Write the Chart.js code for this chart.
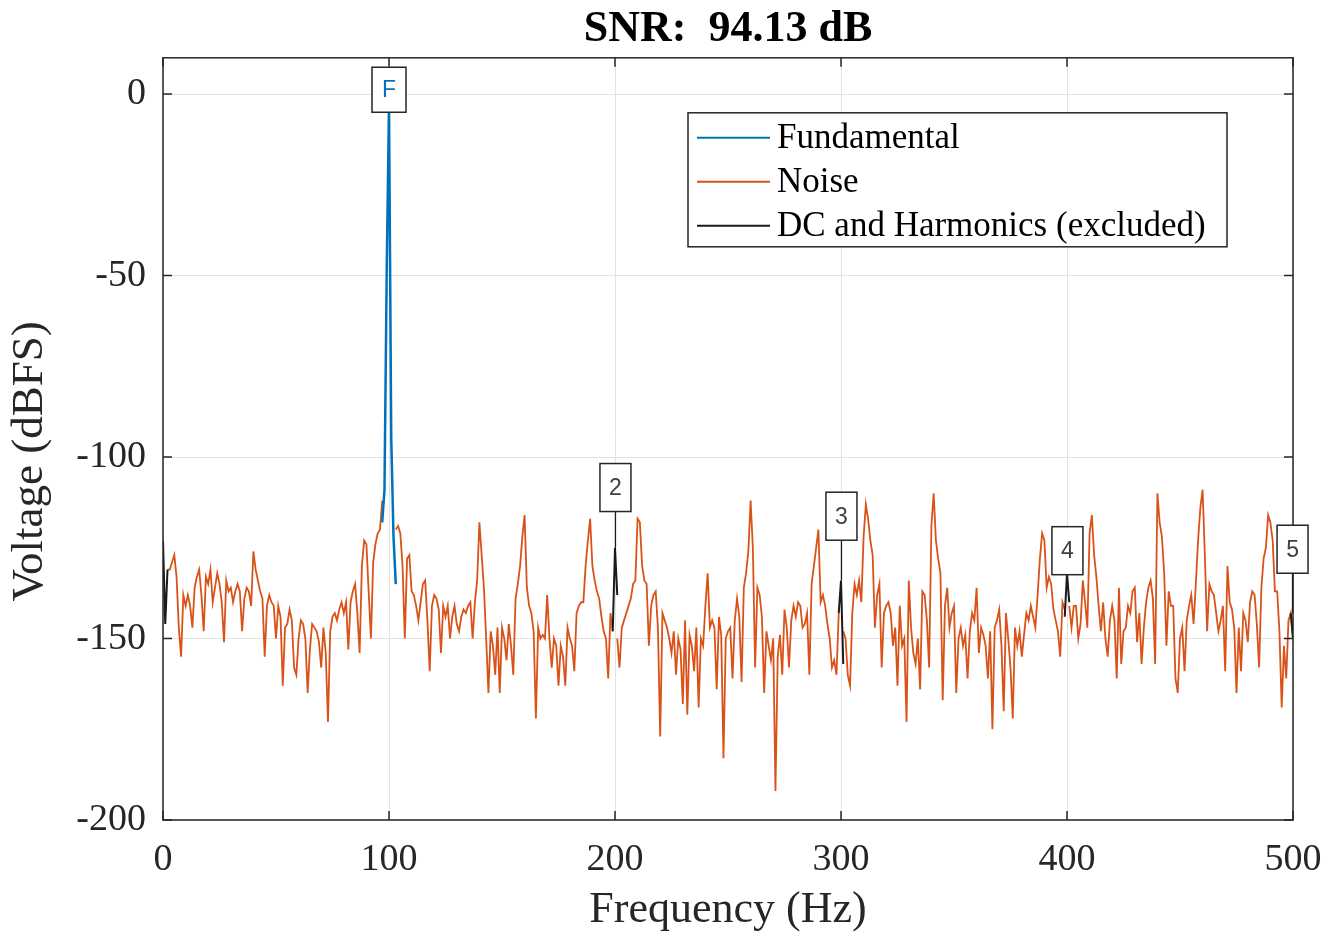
<!DOCTYPE html>
<html>
<head>
<meta charset="utf-8">
<script src="https://cdn.jsdelivr.net/npm/chart.js@4.4.1/dist/chart.umd.min.js"></script>
<style>
  body { margin: 0; background: #fff; }
  #wrap { width: 1340px; height: 937px; }
</style>
</head>
<body>
<div id="wrap"><canvas id="snrChart"></canvas></div>
<script>
// axis ticks
const freqTicks = [0, 100, 200, 300, 400, 500];
const dbTicks = [-200, -150, -100, -50, 0];

// noise spectrum, one value per Hz from 0 to 500 (null = bin not part of noise)
const noiseDb = [
  null, null, -131, -131, -129, -127, -133, -147, -155, -138,
  -141, -138, -141, -147, -136, -133, -131, -138, -148, -133,
  -135, -131, -140, -136, -132, -135, -140, -151, -134, -137,
  -136, -140, -137, -135, -137, -148, -139, -136, -137, -141,
  -126, -131, -134, -137, -139, -155, -141, -138, -140, -141,
  -150, -141, -144, -163, -147, -146, -142, -145, -158, -160,
  -150, -145, -146, -150, -165, -153, -146, -147, -148, -151,
  -158, -147, -154, -173, -148, -144, -143, -145, -142, -140,
  -143, -140, -153, -140, -137, -135, -143, -154, -130, -123,
  -124, -137, -150, -129, -124, -121, -120, -112, null, null,
  null, null, null, -120, -119, -121, -130, -150, -128, -127,
  -137, -138, -141, -145, -140, -135, -134, -145, -159, -141,
  -138, -139, -142, -154, -141, -144, -141, -150, -144, -141,
  -146, -148, -144, -142, -143, -141, -140, -150, -140, -134,
  -118, -127, -136, -150, -165, -148, -152, -160, -147, -165,
  -147, -150, -156, -146, -152, -160, -139, -135, -130, -122,
  -116, -136, -141, -143, -148, -172, -147, -150, -149, -150,
  -138, -150, -158, -150, -152, -163, -152, -155, -163, -147,
  -150, -152, -159, -143, -141, -140, -140, -130, -123, -117,
  -130, -134, -137, -139, -144, -148, -150, -161, -143, -148,
  null, -150, -158, -147, -145, -143, -141, -139, -135, -134,
  -117, -118, -130, -134, -135, -152, -141, -138, -137, -147,
  -177, -143, -145, -147, -150, -154, -148, -160, -150, -153,
  -168, -145, -171, -149, -152, -159, -147, -169, -150, -152,
  -141, -132, -147, -145, -147, -164, -144, -149, -183, -150,
  -148, -147, -161, -145, -139, -144, -162, -136, -132, -126,
  -112, -125, -158, -136, -138, -144, -165, -148, -152, -156,
  -150, -192, -155, -149, -160, -142, -147, -158, -145, -141,
  -144, -140, -141, -147, -146, -143, -160, -135, -130, -125,
  -120, -140, -138, -141, -146, -150, -158, -156, -160, -143,
  null, -148, -150, -160, -163, -143, -135, -138, -134, -140,
  -122, -113, -117, -123, -127, -147, -138, -135, -158, -143,
  -141, -140, -143, -152, -147, -163, -141, -152, -150, -173,
  -134, -147, -154, -157, -150, -164, -137, -138, -145, -158,
  -119, -110, -123, -128, -132, -167, -141, -136, -147, -143,
  -141, -165, -150, -147, -152, -149, -161, -148, -143, -145,
  -136, -154, -147, -149, -152, -161, -148, -175, -147, -145,
  -142, -152, -170, -143, -150, -158, -172, -147, -152, -148,
  -155, -149, -143, -145, -141, -144, -147, -138, -128, -121,
  -123, -136, -133, -135, -142, -145, -148, -155, -140, -142,
  null, -141, -147, -141, -141, -150, -146, -134, -140, -147,
  -121, -116, -127, -133, -141, -148, -140, -150, -155, -145,
  -141, -145, -161, -136, -157, -148, -147, -141, -143, -137,
  -136, -151, -143, -157, -147, -140, -136, -134, -139, -157,
  -110, -118, -122, -132, -152, -137, -141, -141, -161, -165,
  -150, -147, -159, -145, -141, -138, -146, -135, -123, -114,
  -109, -127, -148, -135, -137, -138, -143, -148, -145, -141,
  -159, -130, -140, -142, -147, -165, -147, -159, -143, -145,
  -151, -140, -137, -138, -146, -158, -136, -128, -125, -116,
  -118, -123, -137, -137, -148, -169, -152, -161, -145, -143,
  -150
];

// fundamental bins
const fundHz = [97, 98, 99, 100, 101, 102, 103];
const fundDb = [-118, -109, -48, -3, -95, -122, -135];

// DC and harmonic bins (null breaks the line between groups)
const exclHz = [0, 1, 2, 2.5, 199, 200, 201, 201.5, 299, 300, 301, 301.5, 399, 400, 401, 401.5, 499, 500];
const exclDb = [-123, -146, -131, null, -148, -125, -138, null, -143, -134, -157, null, -144, -132, -140, null, -143, -150];

// marker labels
const markText = ['F', '2', '3', '4', '5'];
const markHz = [100, 200.2, 300.2, 400.2, 499.8];
const markDb = [1.2, -108.4, -116.3, -125.8, -125.4];
const markStemDb = [null, -125, -134, -132, -143];

const legendLabels = ['Fundamental', 'Noise', 'DC and Harmonics (excluded)'];

const BLUE = '#0072BD';
const ORANGE = '#D95319';
const DARK = '#262626';

const decor = {
  id: 'decor',
  afterDraw(chart) {
    const { ctx, chartArea: a, scales: { x, y } } = chart;
    ctx.save();

    // axes box and inward ticks
    ctx.strokeStyle = DARK;
    ctx.lineWidth = 1.5;
    ctx.strokeRect(a.left, a.top, a.right - a.left, a.bottom - a.top);
    const tl = 9;
    ctx.beginPath();
    freqTicks.forEach(v => {
      const px = x.getPixelForValue(v);
      ctx.moveTo(px, a.bottom); ctx.lineTo(px, a.bottom - tl);
      ctx.moveTo(px, a.top); ctx.lineTo(px, a.top + tl);
    });
    dbTicks.forEach(v => {
      const py = y.getPixelForValue(v);
      ctx.moveTo(a.left, py); ctx.lineTo(a.left + tl, py);
      ctx.moveTo(a.right, py); ctx.lineTo(a.right - tl, py);
    });
    ctx.stroke();

    // harmonic / fundamental markers
    ctx.font = '23px "Liberation Sans", Arial, sans-serif';
    ctx.textAlign = 'center';
    ctx.textBaseline = 'middle';
    markText.forEach((t, i) => {
      const px = x.getPixelForValue(markHz[i]);
      const py = y.getPixelForValue(markDb[i]);
      const w = t === 'F' ? 34 : 31, h = t === 'F' ? 45 : 48;
      if (markStemDb[i] !== null) {
        ctx.strokeStyle = '#1a1a1a';
        ctx.lineWidth = 1.3;
        ctx.beginPath();
        ctx.moveTo(px, py + h / 2);
        ctx.lineTo(px, y.getPixelForValue(markStemDb[i]));
        ctx.stroke();
      }
      ctx.fillStyle = '#fff';
      ctx.fillRect(px - w / 2, py - h / 2, w, h);
      ctx.strokeStyle = DARK;
      ctx.lineWidth = 1.5;
      ctx.strokeRect(px - w / 2, py - h / 2, w, h);
      ctx.fillStyle = t === 'F' ? BLUE : '#404040';
      ctx.fillText(t, px, py + 1);
    });

    // legend
    const lx = a.right - 605, ly = a.top + 55, lw = 539, lh = 134;
    ctx.fillStyle = '#fff';
    ctx.fillRect(lx, ly, lw, lh);
    ctx.strokeStyle = DARK;
    ctx.lineWidth = 1.5;
    ctx.strokeRect(lx, ly, lw, lh);
    ctx.font = '35px "Liberation Serif", "Times New Roman", serif';
    ctx.textAlign = 'left';
    ctx.textBaseline = 'middle';
    chart.data.datasets.forEach((ds, i) => {
      const ry = ly + 25 + i * 44;
      ctx.strokeStyle = ds.borderColor;
      ctx.lineWidth = 2;
      ctx.beginPath();
      ctx.moveTo(lx + 9, ry);
      ctx.lineTo(lx + 82, ry);
      ctx.stroke();
      ctx.fillStyle = '#000';
      ctx.fillText(legendLabels[i], lx + 89, ry + 1);
    });
    ctx.restore();
  }
};

const serif = '"Liberation Serif", "Times New Roman", serif';

new Chart(document.getElementById('snrChart'), {
  type: 'line',
  data: {
    datasets: [
      {
        label: legendLabels[0],
        data: fundHz.map((f, i) => ({ x: f, y: fundDb[i] })),
        borderColor: BLUE,
        borderWidth: 2.5,
        order: 0
      },
      {
        label: legendLabels[1],
        data: noiseDb.map((v, i) => ({ x: i, y: v })),
        borderColor: ORANGE,
        borderWidth: 1.8,
        order: 2
      },
      {
        label: legendLabels[2],
        data: exclHz.map((f, i) => ({ x: f, y: exclDb[i] })),
        borderColor: '#1a1a1a',
        borderWidth: 2,
        order: 1
      }
    ]
  },
  options: {
    responsive: true,
    maintainAspectRatio: false,
    animation: false,
    spanGaps: false,
    elements: { point: { radius: 0 }, line: { tension: 0 } },
    layout: { padding: { left: 0, right: 47, top: 0, bottom: 0 } },
    plugins: {
      legend: { display: false },
      tooltip: { enabled: false },
      title: {
        display: true,
        fullSize: false,
        text: 'SNR:  94.13 dB',
        color: '#000',
        font: { family: serif, size: 44, weight: 'bold' },
        padding: { top: 3, bottom: 2 }
      }
    },
    scales: {
      x: {
        type: 'linear',
        min: 0,
        max: 500,
        afterBuildTicks: s => { s.ticks = freqTicks.map(v => ({ value: v })); },
        afterFit: s => { s.height = 117; },
        ticks: {
          autoSkip: false,
          maxRotation: 0,
          padding: 17,
          color: DARK,
          font: { family: serif, size: 38 },
          callback: v => String(v)
        },
        grid: { color: '#e3e3e3', drawTicks: false },
        border: { display: false },
        title: {
          display: true,
          text: 'Frequency (Hz)',
          color: DARK,
          font: { family: serif, size: 44 },
          padding: { top: 0, bottom: 0 }
        }
      },
      y: {
        type: 'linear',
        min: -200,
        max: 10,
        afterBuildTicks: s => { s.ticks = dbTicks.map(v => ({ value: v })); },
        afterFit: s => { s.width = 163; },
        ticks: {
          padding: 17,
          color: DARK,
          font: { family: serif, size: 38 },
          callback: v => String(v)
        },
        grid: { color: '#e3e3e3', drawTicks: false },
        border: { display: false },
        title: {
          display: true,
          text: 'Voltage (dBFS)    ',
          color: DARK,
          font: { family: serif, size: 45 },
          padding: { top: 3, bottom: 0 }
        }
      }
    }
  },
  plugins: [decor]
});
</script>
</body>
</html>
